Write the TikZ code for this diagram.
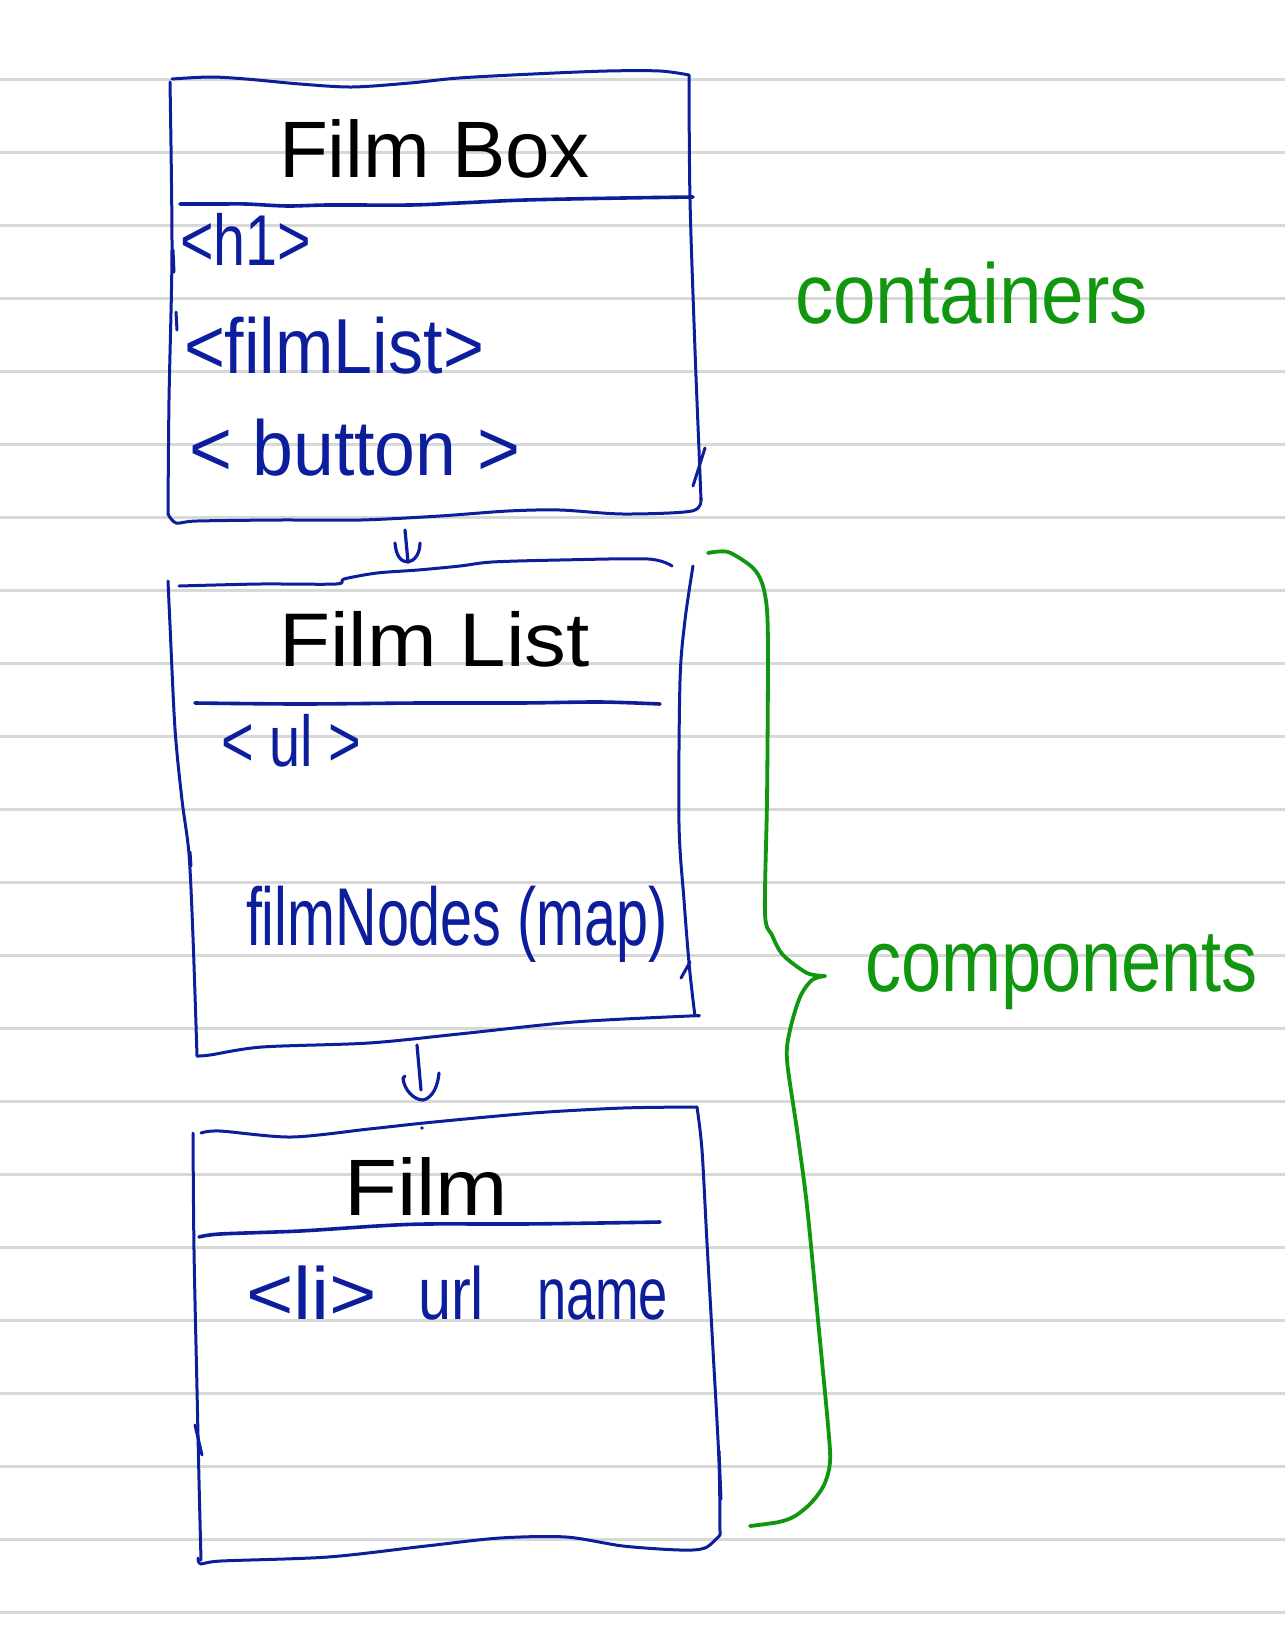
\documentclass[tikz,border=0pt]{standalone}
\usepackage{fontspec}
\setmainfont{Liberation Sans}
\usepackage{graphicx}
\definecolor{inkblue}{HTML}{0D1E9C}
\definecolor{inkgreen}{HTML}{10960F}
\definecolor{ruleg}{HTML}{D8D8D8}
\newcommand{\hwtxt}[3]{\resizebox{#1pt}{\height}{\fontsize{#2pt}{#2pt}\selectfont #3}}
\tikzset{
  gridl/.style={draw=ruleg, line width=3pt},
  boxl/.style={draw=inkblue, line width=3pt, line cap=round, line join=round},
  divl/.style={draw=inkblue, line width=3.6pt, line cap=round},
  bracel/.style={draw=inkgreen, line width=3.8pt, line cap=round, line join=round},
  arrl/.style={draw=inkblue, line width=3.2pt, line cap=round, line join=round},
  txt/.style={inner sep=0pt, outer sep=0pt, anchor=base west},
  bluetxt/.style={txt, text=inkblue},
  blacktxt/.style={txt, text=black},
  greentxt/.style={txt, text=inkgreen},
}
\begin{document}
\begin{tikzpicture}[x=1pt,y=-1pt]
\useasboundingbox (0,0) rectangle (1285,1633);
\fill[white] (0,0) rectangle (1285,1633);
% ruled paper
\foreach \k in {0,...,21} {
  \draw[gridl] (0,{79.3+73*\k}) -- (1285,{79.3+73*\k});
}
% ---------- Box 1: FilmBox ----------
\draw[boxl] plot[smooth, tension=0.5] coordinates {(172,79) (210,77) (246,79) (300,84) (352,87) (410,83) (459,78) (533,74) (607,71) (660,71) (689,75)};
\draw[boxl] plot[smooth, tension=0.5] coordinates {(689,75) (690,200) (695,350) (699,450) (701,500)};
\draw[boxl] (705,448) -- (693,486);
\draw[boxl] plot[smooth, tension=0.5] coordinates {(701,498) (692,511) (623,514) (560,510) (508,511) (440,516) (361,520) (280,520) (197,521) (176,523) (168,514)};
\draw[boxl] plot[smooth, tension=0.5] coordinates {(168,514) (169,400) (172,250) (170,82)};
\draw[boxl] (173,250) -- (174,272);
\draw[boxl] (176,312) -- (177,330);
\draw[divl] plot[smooth, tension=0.5] coordinates {(180,204) (221,204) (246,204) (287,206) (328,205) (410,205) (459,203) (525,200) (623,198) (693,197)};
\node[blacktxt] (tfb) at (279,177) {\hwtxt{311}{80}{Film Box}};
\node[bluetxt] (th1) at (180,265) {\hwtxt{131}{72}{<h1>}};
\node[bluetxt] (tfl) at (184,373) {\hwtxt{300}{78}{<filmList>}};
\node[bluetxt] (tbt) at (189,475) {\hwtxt{331}{78}{< button >}};
\node[greentxt] (tcont) at (795,323) {\hwtxt{353}{85}{containers}};
% arrow 1
\coordinate (a1s) at (405,530);
\coordinate (a1e) at (408,562);
\draw[arrl] (a1s) -- (a1e);
\draw[arrl] (395,543) .. controls (396,556) and (401,562) .. (a1e) .. controls (415,561) and (420,553) .. (420,543);
% ---------- Box 2: FilmList ----------
\draw[boxl] plot[smooth, tension=0.5] coordinates {(179,586) (260,584) (336,584) (344,579) (377,573) (418,570) (460,566) (492,562) (560,560) (648,559) (672,566)};
\draw[boxl] plot[smooth, tension=0.5] coordinates {(168,581) (170,625) (175,729) (182,800) (189,854) (193,937) (197,1056)};
\draw[boxl] (190,852) -- (191,866);
\draw[boxl] plot[smooth, tension=0.5] coordinates {(197,1056) (210,1055) (262,1047) (369,1043) (459,1034) (574,1022) (689,1016) (697,1016)};
\draw[boxl] plot[smooth, tension=0.5] coordinates {(693,566) (685,620) (680,681) (679,824) (684,900) (689,963) (693,1000) (695,1016)};
\draw[boxl] (690,962) -- (681,978);
\draw[divl] plot[smooth, tension=0.5] coordinates {(195,703) (300,704) (420,703) (520,703) (600,702) (660,704)};
\node[blacktxt] (tflist) at (279,666) {\hwtxt{311}{76}{Film List}};
\node[bluetxt] (tul) at (221,766) {\hwtxt{140}{72}{< ul >}};
\node[bluetxt] (tnodes) at (246,945) {\hwtxt{422}{82}{filmNodes (map)}};
% arrow 2
\coordinate (a2s) at (417,1045);
\coordinate (a2e) at (423,1100);
\draw[arrl] (a2s) -- (421,1090);
\draw[arrl] (405,1076) -- (403,1078) .. controls (404,1090) and (414,1100) .. (a2e) .. controls (433,1098) and (438,1085) .. (439,1073);
% ---------- Box 3: Film ----------
\draw[boxl] plot[smooth, tension=0.5] coordinates {(201,1133) (220,1131) (291,1137) (369,1129) (434,1122) (533,1113) (623,1108) (697,1107)};
\draw[boxl] plot[smooth, tension=0.5] coordinates {(697,1107) (702,1150) (707,1243) (713,1350) (719,1462) (720,1535)};
\draw[boxl] (719,1451) -- (721,1499);
\draw[boxl] plot[smooth, tension=0.5] coordinates {(720,1535) (705,1548) (680,1550) (623,1546) (566,1537) (500,1538) (426,1546) (328,1557) (221,1561) (201,1564) (198,1558)};
\draw[boxl] plot[smooth, tension=0.5] coordinates {(193,1133) (194,1250) (197,1389) (199,1480) (201,1560)};
\draw[boxl] (195,1425) -- (202,1455);
\fill[inkblue] (422,1128) circle (1.8);
\draw[divl] plot[smooth, tension=0.5] coordinates {(199,1237) (220,1234) (300,1231) (377,1226) (426,1224) (520,1224) (600,1223) (660,1222)};
\node[blacktxt] (tfilm) at (344,1215) {\hwtxt{164}{80}{Film}};
\node[bluetxt] (tli) at (246,1319) {\hwtxt{131}{74}{<li>}};
\node[bluetxt] (turl) at (418,1319) {\hwtxt{66}{74}{url}};
\node[bluetxt] (tname) at (537,1319) {\hwtxt{131}{74}{name}};
% ---------- brace ----------
\coordinate (btip) at (825,976);
\draw[bracel] plot[smooth, tension=0.5] coordinates {(708,553) (728,552) (752,567) (762,583) (767,610) (768,663) (767,800) (765,913) (772,935) (783,955) (807,973) (btip)};
\draw[bracel] plot[smooth, tension=0.5] coordinates {(btip) (812,980) (800,997) (790,1030) (787,1060) (797,1130) (807,1206) (818,1320) (828,1425) (830,1462) (824,1485) (811,1503) (795,1516) (779,1522) (750,1526)};
\node[greentxt] (tcomp) at (865,991) {\hwtxt{393}{88}{components}};
\end{tikzpicture}
\end{document}
